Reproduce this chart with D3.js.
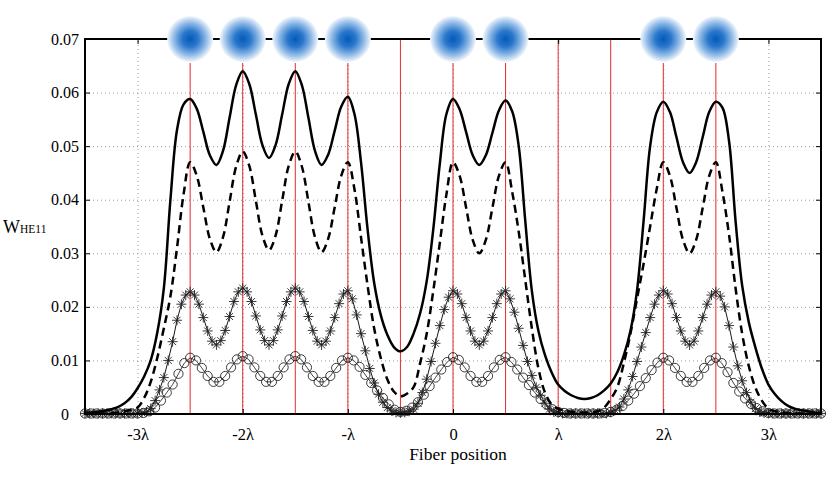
<!DOCTYPE html>
<html>
<head>
<meta charset="utf-8">
<script src="https://cdn.jsdelivr.net/npm/d3@7"></script>
<style>
  html, body { margin: 0; padding: 0; background: #fff; }
  svg { display: block; font-family: "Liberation Serif", "Times New Roman", serif; }
</style>
</head>
<body>
<svg id="chart" width="830" height="487"></svg>
<script>
// positions are in units of the wavelength (lambda)
const xTicks = [-3, -2, -1, 0, 1, 2, 3];
const xTickLabels = ['-3\u03bb', '-2\u03bb', '-\u03bb', '0', '\u03bb', '2\u03bb', '3\u03bb'];
const yTicks = [0, 0.01, 0.02, 0.03, 0.04, 0.05, 0.06, 0.07];
const yTickLabels = ['0', '0.01', '0.02', '0.03', '0.04', '0.05', '0.06', '0.07'];

// lattice sites: occupied by a fiber or left empty
const fiberSites = [-2.5, -2, -1.5, -1, 0, 0.5, 2, 2.5];
const emptySites = [-0.5, 1, 1.5];

// thick curves, sampled every lambda/16 from -3.5 to 3.5
const solidStep = 1 / 16;
const solidValues = [
  0.0002, 0.0003, 0.0004, 0.0006, 0.0009, 0.0013, 0.0020, 0.0031, 0.0048,
  0.0070, 0.0100, 0.0152, 0.0235, 0.0400, 0.0530, 0.0578, 0.0588,
  0.0570, 0.0527, 0.0483, 0.0465, 0.0491, 0.0553, 0.0614, 0.0640,
  0.0616, 0.0559, 0.0502, 0.0478, 0.0502, 0.0559, 0.0616, 0.0640,
  0.0614, 0.0553, 0.0491, 0.0465, 0.0484, 0.0529, 0.0574, 0.0592,
  0.0560, 0.0470, 0.0345, 0.0245, 0.0185, 0.0148, 0.0125, 0.0117,
  0.0125, 0.0150, 0.0188, 0.0248, 0.0345, 0.0468, 0.0560, 0.0588,
  0.0569, 0.0526, 0.0483, 0.0465, 0.0483, 0.0525, 0.0567, 0.0585,
  0.0565, 0.0500, 0.0360, 0.0230, 0.0155, 0.0110, 0.0078, 0.0055,
  0.0043, 0.0035, 0.0030, 0.0028, 0.0030, 0.0035, 0.0044, 0.0057,
  0.0078, 0.0110, 0.0155, 0.0230, 0.0360, 0.0500, 0.0563, 0.0583,
  0.0564, 0.0517, 0.0470, 0.0450, 0.0470, 0.0517, 0.0564, 0.0583,
  0.0572, 0.0510, 0.0360, 0.0240, 0.0172, 0.0125, 0.0085, 0.0055,
  0.0037, 0.0024, 0.0015, 0.0010, 0.0007, 0.0005, 0.0003, 0.0002
];
const dashedValues = [
  0.0000, 0.0000, 0.0001, 0.0001, 0.0002, 0.0003, 0.0005, 0.0008, 0.0012,
  0.0030, 0.0060, 0.0105, 0.0160, 0.0220, 0.0310, 0.0410, 0.0470,
  0.0445, 0.0386, 0.0327, 0.0302, 0.0330, 0.0396, 0.0462, 0.0490,
  0.0463, 0.0398, 0.0333, 0.0306, 0.0333, 0.0398, 0.0463, 0.0490,
  0.0462, 0.0396, 0.0330, 0.0302, 0.0327, 0.0386, 0.0445, 0.0470,
  0.0420, 0.0330, 0.0240, 0.0160, 0.0105, 0.0065, 0.0042, 0.0033,
  0.0038, 0.0050, 0.0095, 0.0150, 0.0230, 0.0320, 0.0410, 0.0470,
  0.0445, 0.0385, 0.0325, 0.0300, 0.0325, 0.0385, 0.0445, 0.0470,
  0.0415, 0.0340, 0.0250, 0.0160, 0.0085, 0.0040, 0.0018, 0.0010,
  0.0006, 0.0004, 0.0003, 0.0003, 0.0003, 0.0005, 0.0012, 0.0028,
  0.0050, 0.0095, 0.0150, 0.0215, 0.0280, 0.0350, 0.0420, 0.0470,
  0.0445, 0.0385, 0.0325, 0.0300, 0.0325, 0.0385, 0.0445, 0.0470,
  0.0415, 0.0335, 0.0235, 0.0150, 0.0090, 0.0050, 0.0025, 0.0010,
  0.0005, 0.0003, 0.0002, 0.0001, 0.0001, 0.0000, 0.0000, 0.0000
];

// asterisk series, sampled every lambda/24
const starStep = 1 / 24;
const starValues = [
  0.0001, 0.0001, 0.0001, 0.0001, 0.0001, 0.0001, 0.0001, 0.0001, 0.0001, 0.0001, 0.0001,
  0.0001, 0.0001, 0.0002, 0.0004, 0.0010, 0.0025, 0.0045, 0.0068, 0.0100, 0.0135, 0.0175, 0.0205, 0.0222, 0.0228,
  0.0222, 0.0205, 0.0180, 0.0155, 0.0136, 0.0129, 0.0137, 0.0156, 0.0182, 0.0210, 0.0228, 0.0235,
  0.0228, 0.0210, 0.0183, 0.0157, 0.0137, 0.0129, 0.0137, 0.0157, 0.0183, 0.0210, 0.0228, 0.0235,
  0.0228, 0.0210, 0.0182, 0.0156, 0.0136, 0.0129, 0.0136, 0.0155, 0.0180, 0.0206, 0.0224, 0.0230,
  0.0215, 0.0185, 0.0150, 0.0118, 0.0085, 0.0058, 0.0037, 0.0022, 0.0012, 0.0006, 0.0003, 0.0002,
  0.0003, 0.0005, 0.0009, 0.0020, 0.0040, 0.0065, 0.0098, 0.0132, 0.0165, 0.0195, 0.0218, 0.0230,
  0.0224, 0.0206, 0.0180, 0.0155, 0.0136, 0.0129, 0.0136, 0.0155, 0.0180, 0.0206, 0.0224, 0.0230,
  0.0215, 0.0190, 0.0160, 0.0128, 0.0098, 0.0072, 0.0050, 0.0035, 0.0020, 0.0009, 0.0004, 0.0002,
  0.0001, 0.0001, 0.0001, 0.0001, 0.0001, 0.0001, 0.0001, 0.0001, 0.0001, 0.0001, 0.0001,
  0.0003, 0.0007, 0.0013, 0.0028, 0.0045, 0.0070, 0.0098, 0.0125, 0.0152, 0.0180, 0.0205, 0.0222, 0.0230,
  0.0224, 0.0206, 0.0180, 0.0155, 0.0136, 0.0129, 0.0136, 0.0155, 0.0180, 0.0205, 0.0222, 0.0228,
  0.0220, 0.0200, 0.0165, 0.0125, 0.0090, 0.0062, 0.0040, 0.0022, 0.0010, 0.0004, 0.0002, 0.0001,
  0.0001, 0.0001, 0.0001, 0.0001, 0.0001, 0.0001, 0.0001, 0.0001, 0.0001, 0.0001, 0.0001, 0.0001
];

// open circle series, sampled every lambda/18
const circleStep = 1 / 18;
const circleValues = [
  0.0001, 0.0001, 0.0001, 0.0001, 0.0001, 0.0001, 0.0001, 0.0001, 0.0001,
  0.0001, 0.0002, 0.0005, 0.0012, 0.0025, 0.0040, 0.0055, 0.0075, 0.0095, 0.0105,
  0.0100, 0.0086, 0.0071, 0.0060, 0.0060, 0.0071, 0.0087, 0.0102, 0.0108,
  0.0102, 0.0087, 0.0071, 0.0060, 0.0060, 0.0071, 0.0087, 0.0102, 0.0108,
  0.0102, 0.0087, 0.0071, 0.0060, 0.0060, 0.0071, 0.0086, 0.0100, 0.0105,
  0.0100, 0.0088, 0.0073, 0.0058, 0.0044, 0.0030, 0.0018, 0.0008, 0.0004,
  0.0006, 0.0012, 0.0022, 0.0036, 0.0052, 0.0068, 0.0083, 0.0097, 0.0106,
  0.0101, 0.0087, 0.0071, 0.0060, 0.0060, 0.0071, 0.0087, 0.0101, 0.0106,
  0.0097, 0.0083, 0.0068, 0.0054, 0.0040, 0.0028, 0.0018, 0.0009, 0.0004,
  0.0002, 0.0001, 0.0001, 0.0001, 0.0001, 0.0001, 0.0001, 0.0002, 0.0004,
  0.0008, 0.0015, 0.0025, 0.0038, 0.0052, 0.0067, 0.0082, 0.0096, 0.0105,
  0.0100, 0.0086, 0.0071, 0.0060, 0.0060, 0.0071, 0.0086, 0.0100, 0.0105,
  0.0095, 0.0078, 0.0058, 0.0042, 0.0029, 0.0019, 0.0011, 0.0005, 0.0002,
  0.0001, 0.0001, 0.0001, 0.0001, 0.0001, 0.0001, 0.0001, 0.0001, 0.0001
];

const width = 830;
const height = 487;
const margin = { top: 39, right: 9, bottom: 73, left: 85 };
const plotW = width - margin.left - margin.right;
const plotH = height - margin.top - margin.bottom;
const fiberR = 23;

const svg = d3.select('#chart');

const x = d3.scaleLinear().domain([-3.5, 3.5]).range([margin.left, width - margin.right]);
const y = d3.scaleLinear().domain([0, 0.07]).range([height - margin.bottom, margin.top]);

const toPoints = (vals, step) => vals.map((v, i) => [-3.5 + i * step, v]);

// dotted grid
svg.append('g')
  .attr('transform', `translate(${margin.left},0)`)
  .call(d3.axisLeft(y).tickValues(yTicks.slice(1, -1)).tickSize(-plotW).tickFormat(''))
  .call(g => g.select('.domain').remove())
  .selectAll('line')
  .attr('stroke', '#9a9a9a')
  .attr('stroke-dasharray', '1,3');

svg.append('g')
  .attr('transform', `translate(0,${height - margin.bottom})`)
  .call(d3.axisBottom(x).tickValues(xTicks).tickSize(-plotH).tickFormat(''))
  .call(g => g.select('.domain').remove())
  .selectAll('line')
  .attr('stroke', '#9a9a9a')
  .attr('stroke-dasharray', '1,3');

// red site lines
svg.append('g')
  .selectAll('line')
  .data(fiberSites.map(s => ({ s, top: margin.top + fiberR + 1 }))
    .concat(emptySites.map(s => ({ s, top: margin.top }))))
  .join('line')
  .attr('x1', d => x(d.s))
  .attr('x2', d => x(d.s))
  .attr('y1', d => d.top)
  .attr('y2', height - margin.bottom)
  .attr('stroke', '#e52b2b')
  .attr('stroke-width', 1);

const smooth = d3.line()
  .x(d => x(d[0]))
  .y(d => y(d[1]))
  .curve(d3.curveCatmullRom.alpha(0.5));

const straight = d3.line()
  .x(d => x(d[0]))
  .y(d => y(d[1]));

const circlePts = toPoints(circleValues, circleStep);
const starPts = toPoints(starValues, starStep);

// open circle series
svg.append('path')
  .datum(circlePts)
  .attr('fill', 'none')
  .attr('stroke', '#111')
  .attr('stroke-width', 0.8)
  .attr('d', straight);

svg.append('g')
  .selectAll('circle')
  .data(circlePts)
  .join('circle')
  .attr('cx', d => x(d[0]))
  .attr('cy', d => y(d[1]))
  .attr('r', 4.6)
  .attr('fill', 'none')
  .attr('stroke', '#1a1a1a')
  .attr('stroke-width', 0.85);

// asterisk series
svg.append('path')
  .datum(starPts)
  .attr('fill', 'none')
  .attr('stroke', '#000')
  .attr('stroke-width', 0.9)
  .attr('d', straight);

const star = 'M-5,0H5M0,-5V5M-3.5,-3.5L3.5,3.5M-3.5,3.5L3.5,-3.5';
svg.append('g')
  .selectAll('path')
  .data(starPts)
  .join('path')
  .attr('transform', d => `translate(${x(d[0])},${y(d[1])})`)
  .attr('d', star)
  .attr('fill', 'none')
  .attr('stroke', '#222')
  .attr('stroke-width', 0.9);

// thick curves
svg.append('path')
  .datum(toPoints(dashedValues, solidStep))
  .attr('fill', 'none')
  .attr('stroke', '#000')
  .attr('stroke-width', 2.5)
  .attr('stroke-dasharray', '8,5')
  .attr('d', smooth);

svg.append('path')
  .datum(toPoints(solidValues, solidStep))
  .attr('fill', 'none')
  .attr('stroke', '#000')
  .attr('stroke-width', 2.5)
  .attr('d', smooth);

// axes: inward ticks on all four sides, labels left and bottom
const tickLen = 5;
svg.append('g')
  .attr('transform', `translate(${margin.left},0)`)
  .call(d3.axisLeft(y).tickValues(yTicks).tickSize(-tickLen).tickPadding(20)
    .tickFormat((d, i) => yTickLabels[i]))
  .call(g => g.select('.domain').remove())
  .call(g => g.selectAll('line').attr('stroke', '#000'))
  .call(g => g.selectAll('text')
    .attr('text-anchor', 'middle')
    .attr('fill', '#000')
    .style('font-family', '"Liberation Serif", "Times New Roman", serif')
    .style('font-size', '16px'));

svg.append('g')
  .attr('transform', `translate(${width - margin.right},0)`)
  .call(d3.axisRight(y).tickValues(yTicks).tickSize(-tickLen).tickFormat(''))
  .call(g => g.select('.domain').remove())
  .call(g => g.selectAll('line').attr('stroke', '#000'));

svg.append('g')
  .attr('transform', `translate(0,${height - margin.bottom})`)
  .call(d3.axisBottom(x).tickValues(xTicks).tickSize(-tickLen).tickPadding(14)
    .tickFormat((d, i) => xTickLabels[i]))
  .call(g => g.select('.domain').remove())
  .call(g => g.selectAll('line').attr('stroke', '#000'))
  .call(g => g.selectAll('text')
    .attr('fill', '#000')
    .style('font-family', '"Liberation Serif", "Times New Roman", serif')
    .style('font-size', '16.5px'));

svg.append('g')
  .attr('transform', `translate(0,${margin.top})`)
  .call(d3.axisTop(x).tickValues(xTicks).tickSize(-tickLen).tickFormat(''))
  .call(g => g.select('.domain').remove())
  .call(g => g.selectAll('line').attr('stroke', '#000'));

// frame
svg.append('rect')
  .attr('x', margin.left)
  .attr('y', margin.top)
  .attr('width', plotW)
  .attr('height', plotH)
  .attr('fill', 'none')
  .attr('stroke', '#000')
  .attr('stroke-width', 2);

// fiber cross sections sitting on the top border
const grad = svg.append('defs')
  .append('radialGradient')
  .attr('id', 'fiber');
[[0, '#0559b8'], [0.35, '#2a78cc'], [0.7, '#8fb9e6'], [1, '#f2f7fd']].forEach(([o, c]) => {
  grad.append('stop').attr('offset', o).attr('stop-color', c);
});

svg.append('g')
  .selectAll('circle')
  .data(fiberSites)
  .join('circle')
  .attr('cx', d => x(d))
  .attr('cy', margin.top)
  .attr('r', fiberR)
  .attr('fill', 'url(#fiber)');

// axis titles
const yTitle = svg.append('text')
  .attr('x', 3)
  .attr('y', 233)
  .attr('fill', '#000');
yTitle.append('tspan').style('font-size', '18px').text('W');
yTitle.append('tspan').style('font-size', '11.5px').text('HE11');

svg.append('text')
  .attr('x', (margin.left + width - margin.right) / 2 + 5)
  .attr('y', 460)
  .attr('text-anchor', 'middle')
  .attr('fill', '#000')
  .style('font-size', '17.5px')
  .text('Fiber position');
</script>
</body>
</html>
